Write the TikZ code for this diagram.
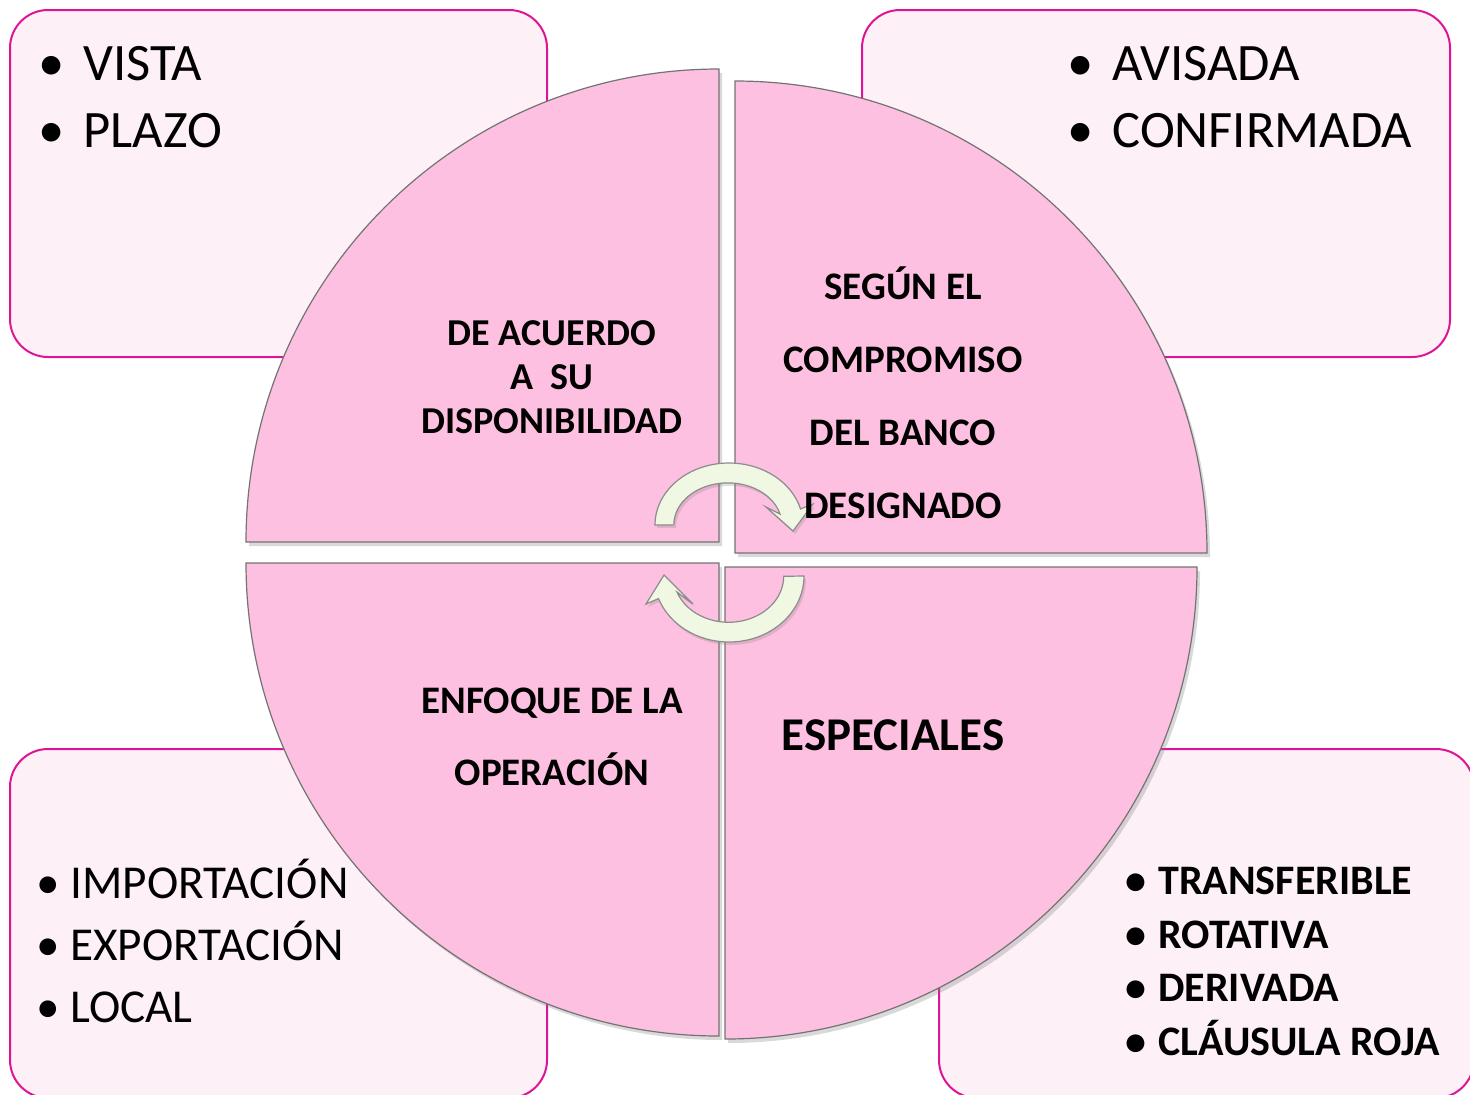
\documentclass[tikz,border=0pt]{standalone}
\usepackage{fontspec}
\setmainfont{Carlito}
\usetikzlibrary{positioning,shadows}

\definecolor{quadpink}{RGB}{254,192,224}
\definecolor{boxfill}{RGB}{254,240,247}
\definecolor{boxline}{RGB}{222,20,150}
\definecolor{arrfill}{RGB}{240,248,228}
\newcommand{\bul}[1][22.5pt]{\makebox[#1][l]{\textbullet}}

\begin{document}
\begin{tikzpicture}[x=0.5pt, y=-0.5pt,
    box/.style={draw=boxline, line width=1pt, fill=boxfill, rounded corners=19pt},
    quad/.style={draw=black!55, line width=0.6pt, fill=quadpink,
                 drop shadow={opacity=0.3, shadow xshift=1.5pt, shadow yshift=-2pt}},
    cyc/.style={draw=black!45, line width=0.6pt, fill=arrfill,
                drop shadow={opacity=0.25, shadow xshift=1pt, shadow yshift=-1.5pt}},
    lst/.style={anchor=base west, align=left, inner sep=0pt},
    lbl/.style={align=center, inner sep=0pt, font=\bfseries}
  ]
  \useasboundingbox (0,0) rectangle (1470,1094);

  % Corner boxes
  \draw[box] (10,10) rectangle (547,357);
  \draw[box] (862,10) rectangle (1450,357);
  \draw[box] (10,749) rectangle (547,1098);
  \draw[box] (939,749) rectangle (1474,1098);

  % Quadrants
  \draw[quad] (719,542) -- (246,542) arc[start angle=180, end angle=270, radius=473] -- cycle;
  \draw[quad] (735,553) -- (735,81) arc[start angle=270, end angle=360, radius=472] -- cycle;
  \draw[quad] (719,563) -- (246,563) arc[start angle=180, end angle=90, radius=473] -- cycle;
  \draw[quad] (725,567) -- (1197,567) arc[start angle=0, end angle=90, radius=472] -- cycle;

  % Circular arrows
  \draw[cyc] (655,525) arc[start angle=180, end angle=345, x radius=74, y radius=62]
    -- (813,504) -- (793,531) -- (766,507)
    -- (780,514) arc[start angle=345, end angle=180, x radius=54, y radius=42] -- cycle;
  \draw[cyc] (804,576) arc[start angle=0, end angle=160, x radius=75, y radius=66]
    -- (646,604) -- (664,575) -- (693,604)
    -- (677,592) arc[start angle=160, end angle=0, x radius=55, y radius=46] -- cycle;

  % Quadrant labels
  \node[lbl, font=\bfseries\fontsize{19}{22}\selectfont] (disp) at (552,377)
    {DE ACUERDO\\A~~SU\\DISPONIBILIDAD};
  \node[lbl, font=\bfseries\fontsize{19.5}{36.5}\selectfont] (comp) at (903,393)
    {SEGÚN EL\\COMPROMISO\\DEL BANCO\\DESIGNADO};
  \node[lbl, font=\bfseries\fontsize{19.5}{36}\selectfont] (enfo) at (552,737)
    {ENFOQUE DE LA\\OPERACIÓN};
  \node[lbl, font=\bfseries\fontsize{23.5}{28}\selectfont] (espe) at (893,735)
    {ESPECIALES};

  % Lists (anchored at the last baseline)
  \node[lst, font=\fontsize{26.3}{33.5}\selectfont] (plazo) at (38,147)
    {\bul VISTA\\\bul PLAZO};
  \node[lst, font=\fontsize{26.3}{33.5}\selectfont] (aviso) at (1067,147)
    {\bul AVISADA\\\bul CONFIRMADA};
  \node[lst, font=\fontsize{23.6}{31}\selectfont] (tipo) at (36,1022)
    {\bul[17pt]IMPORTACIÓN\\\bul[17pt]EXPORTACIÓN\\\bul[17pt]LOCAL};
  \node[lst, font=\bfseries\fontsize{21}{26.75}\selectfont] (espl) at (1125,1055)
    {\bul[16.5pt]TRANSFERIBLE\\\bul[16.5pt]ROTATIVA\\\bul[16.5pt]DERIVADA\\\bul[16.5pt]CLÁUSULA ROJA};
\end{tikzpicture}
\end{document}
